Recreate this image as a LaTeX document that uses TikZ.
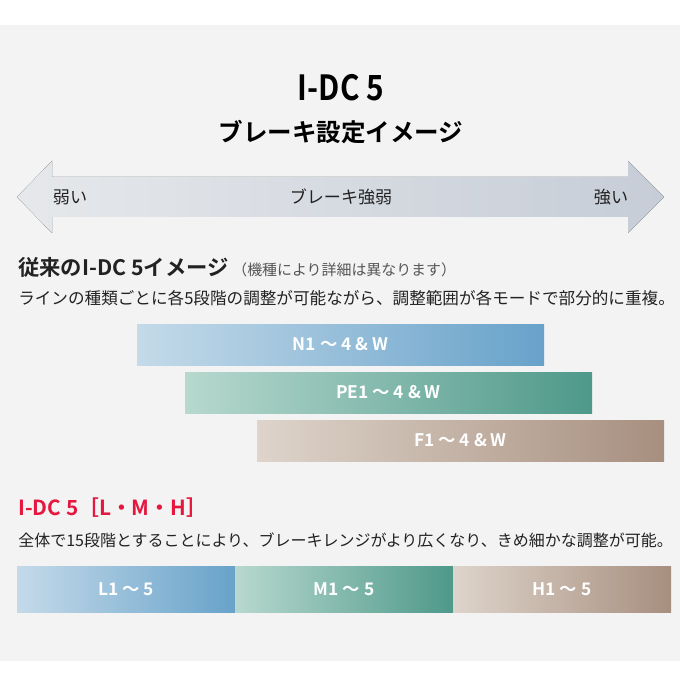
\documentclass[tikz,border=0pt]{standalone}
\usepackage{fontspec}
\setmainfont{Noto Sans CJK JP}
\newfontfamily\jpb{Noto Sans CJK JP Bold}
\definecolor{bgray}{HTML}{F3F3F3}
\definecolor{txt}{HTML}{222222}
\definecolor{subg}{HTML}{555555}
\definecolor{idcred}{HTML}{E5173F}
\definecolor{nL}{HTML}{C4DAE9}
\definecolor{nR}{HTML}{68A2CA}
\definecolor{pL}{HTML}{B7D8CE}
\definecolor{pR}{HTML}{4E998A}
\definecolor{fL}{HTML}{DED4CB}
\definecolor{fR}{HTML}{A78F7F}
\definecolor{arL}{HTML}{E6E8EB}
\definecolor{arR}{HTML}{C6CDD7}
\tikzset{
  barbox/.style={anchor=north west, inner sep=0pt, outer sep=0pt, minimum height=41*0.75pt},
  bartext/.style={text=white, font=\jpb\fontsize{13pt}{15pt}\selectfont, inner sep=0pt},
  bodytext/.style={anchor=west, inner sep=0pt, text=txt},
  arrowtext/.style={inner sep=0pt, text=txt, font=\fontsize{12.8pt}{15pt}\selectfont}
}
\begin{document}
\begin{tikzpicture}[x=0.75pt,y=-0.75pt]
\useasboundingbox (0,0) rectangle (680,680);
\fill[white] (0,0) rectangle (680,680);
\fill[bgray] (0,25) rectangle (680,661);
% titles
\node[inner sep=0pt, text=black, font=\jpb\fontsize{26pt}{29pt}\selectfont] (title) at (341,88) {\scalebox{0.86}[1]{I-DC 5}};
\node[inner sep=0pt, text=black, font=\jpb\fontsize{18.4pt}{21pt}\selectfont] (subtitle) at (341,132) {ブレーキ設定イメージ};
% arrow
\fill[left color=arL, right color=arR] (17,197) -- (52,161) -- (52,177) -- (628,177) -- (628,161) -- (664,197) -- (628,233) -- (628,217) -- (52,217) -- (52,233) -- cycle;
\node[arrowtext] (weak) at (70,197) {弱い};
\node[arrowtext] (mid) at (341,197) {ブレーキ強弱};
\node[arrowtext] (strong) at (611,197) {強い};
% section 1
\node[anchor=base west, inner sep=0pt, text=txt, font=\jpb\fontsize{16pt}{18pt}\selectfont] (h1) at (18,276) {従来のI-DC 5イメージ\,{\normalfont\color{subg}\fontsize{11.2pt}{13pt}\selectfont（機種により詳細は異なります）}};
\node[bodytext, font=\fontsize{12.45pt}{14pt}\selectfont] (d1) at (18,298) {ラインの種類ごとに各5段階の調整が可能ながら、調整範囲が各モードで部分的に重複。};
\node[barbox, minimum width=407*0.75pt, left color=nL, right color=nR] (nbar) at (137,324) {};
\node[bartext] at (nbar.center) {N1 ～ 4 \& W};
\node[barbox, minimum width=407*0.75pt, left color=pL, right color=pR] (pbar) at (185,372) {};
\node[bartext] at (pbar.center) {PE1 ～ 4 \& W};
\node[barbox, minimum width=407*0.75pt, left color=fL, right color=fR] (fbar) at (257,420) {};
\node[bartext] at (fbar.center) {F1 ～ 4 \& W};
% section 2
\node[anchor=base west, inner sep=0pt, text=idcred, font=\jpb\fontsize{15.6pt}{18pt}\selectfont] (h2) at (18,515) {I-DC 5［L・M・H］};
\node[bodytext, font=\fontsize{12.0pt}{14pt}\selectfont] (d2) at (18,540) {全体で15段階とすることにより、ブレーキレンジがより広くなり、きめ細かな調整が可能。};
\node[barbox, minimum width=218*0.75pt, minimum height=46*0.75pt, left color=nL, right color=nR] (lbar) at (17,566) {};
\node[bartext] at (lbar.center) {L1 ～ 5};
\node[barbox, minimum width=218*0.75pt, minimum height=46*0.75pt, left color=pL, right color=pR] (mbar) at (235,566) {};
\node[bartext] at (mbar.center) {M1 ～ 5};
\node[barbox, minimum width=218*0.75pt, minimum height=46*0.75pt, left color=fL, right color=fR] (hbar) at (453,566) {};
\node[bartext] at (hbar.center) {H1 ～ 5};
\end{tikzpicture}
\end{document}
